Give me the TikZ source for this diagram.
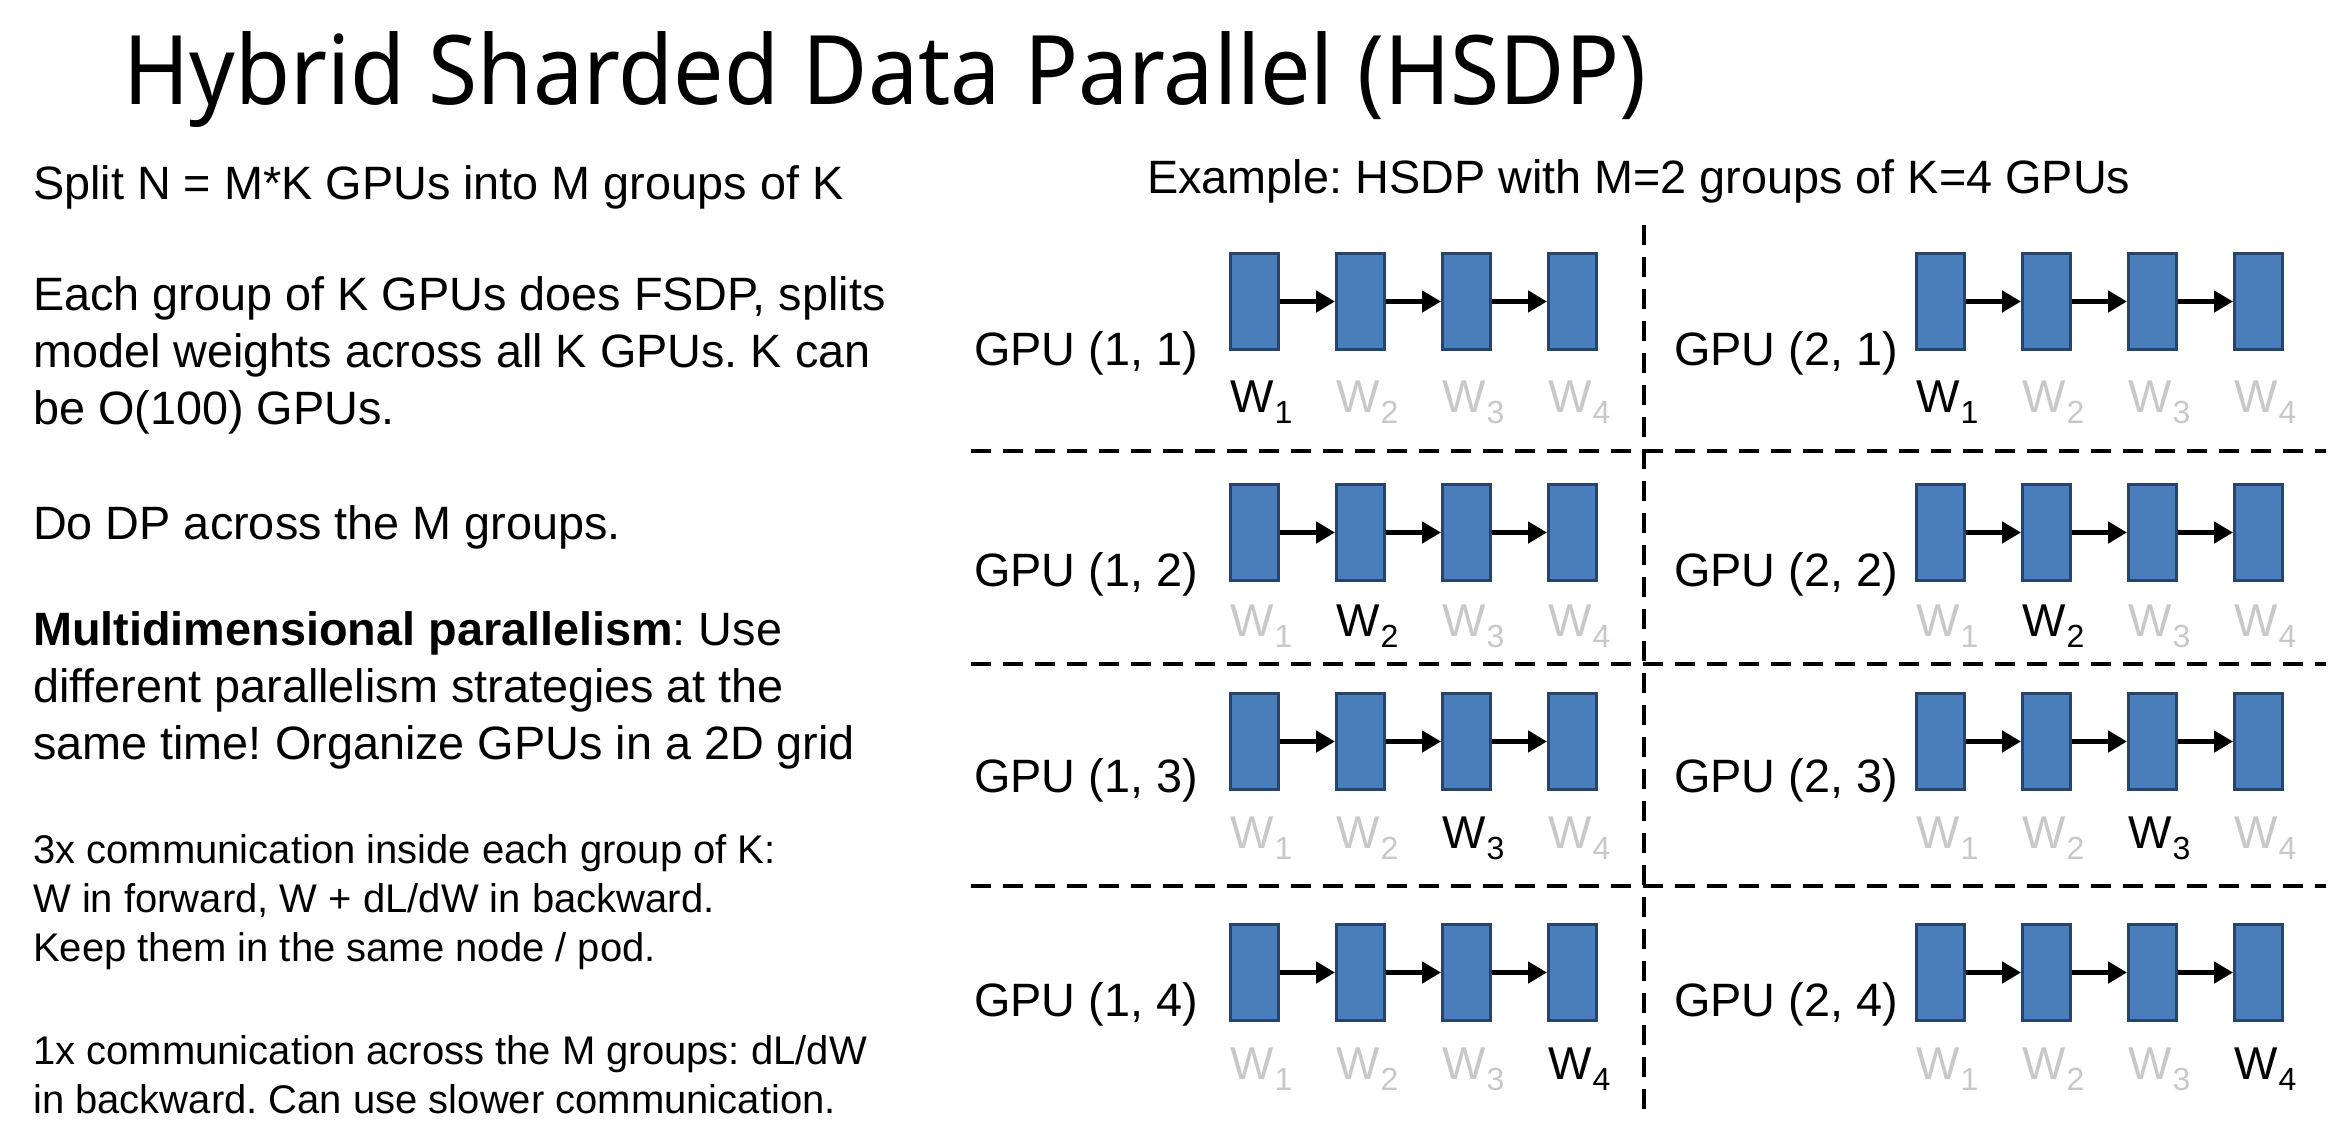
\documentclass[tikz,border=0pt]{standalone}
\usepackage{fontspec}
\setmainfont{Liberation Sans}
\newfontfamily\titlefont{Noto Sans}
\usetikzlibrary{arrows.meta}
\definecolor{blockfill}{HTML}{4A7EBB}
\definecolor{blockline}{HTML}{27446A}
\definecolor{faded}{HTML}{C8C8C8}
% weight label with a lowered index
\newcommand\wsub[1]{W\kern1pt\raisebox{-11pt}{\fontsize{32}{32}\selectfont #1}}

\begin{document}
\frenchspacing
\begin{tikzpicture}[x=1pt,y=-1pt,
  body/.style={anchor=base west,inner sep=0pt,font=\fontsize{46.8}{57}\selectfont},
  small/.style={anchor=base west,inner sep=0pt,font=\fontsize{40}{49}\selectfont},
  layer/.style={draw=blockline,fill=blockfill,line width=3pt,minimum width=48pt,
    minimum height=96pt,inner sep=0pt,anchor=north west},
  flow/.style={-{Triangle[length=19pt,width=21pt]},line width=5.5pt},
  divider/.style={line width=4.6pt,dash pattern=on 20pt off 12pt},
  wlab/.style={anchor=base west,inner sep=0pt,font=\fontsize{46}{46}\selectfont},
]
\useasboundingbox (0,0) rectangle (2350,1140);

% heading
\node[anchor=base west,inner sep=0pt,font=\titlefont\fontsize{96}{96}\selectfont]
  (title) at (123,104) {\scalebox{0.933}[1]{Hybrid Sharded Data Parallel (HSDP)}};

% explanation column
\node[body] (t1)  at (33,199) {Split N = M*K GPUs into M groups of K};
\node[body] (t2a) at (33,310) {Each group of K GPUs does FSDP, splits};
\node[body] (t2b) at (33,367) {model weights across all K GPUs. K can};
\node[body] (t2c) at (33,424) {be O(100) GPUs.};
\node[body] (t3)  at (33,539) {Do DP across the M groups.};
\node[body] (t4a) at (33,645) {\textbf{Multidimensional parallelism}: Use};
\node[body] (t4b) at (33,702) {different parallelism strategies at the};
\node[body] (t4c) at (33,759) {same time! Organize GPUs in a 2D grid};
\node[small] (t5a) at (33,863) {3x communication inside each group of K:};
\node[small] (t5b) at (33,912) {W in forward, W + dL/dW in backward.};
\node[small] (t5c) at (33,961) {Keep them in the same node / pod.};
\node[small] (t6a) at (33,1064) {1x communication across the M groups: dL/dW};
\node[small] (t6b) at (33,1113) {in backward. Can use slower communication.};

% example heading
\node[body] (ex) at (1147,193) {Example: HSDP with M=2 groups of K=4 GPUs};

% grid dividers
\coordinate (vtop) at (1644,225);
\coordinate (vbot) at (1644,1121);
\draw[divider] (vtop) -- (vbot);
\foreach \i/\yy in {1/451,2/664,3/886} {
  \coordinate (hl-\i) at (971,\yy);
  \coordinate (hr-\i) at (2326,\yy);
  \draw[divider] (hl-\i) -- (hr-\i);
}

% GPUs: group g, rank r, four layers each
\foreach \g/\gx/\lx in {1/1229/974, 2/1915/1674} {
  \foreach \r/\top/\lb/\wb in {1/252/365/412, 2/483/586/636, 3/692/792/848, 4/923/1016/1079} {
    \node[body] (gpu-\g-\r) at (\lx,\lb) {GPU (\g, \r)};
    \foreach \c in {1,...,4} {
      \pgfmathsetmacro\bx{\gx+(\c-1)*106}
      \node[layer] (b-\g-\r-\c) at (\bx,\top) {};
      \ifnum\c=\r\def\wcol{black}\else\def\wcol{faded}\fi
      \node[wlab,text=\wcol] (w-\g-\r-\c) at (\bx+1,\wb) {\wsub{\c}};
    }
    \foreach \c [evaluate=\c as \n using int(\c+1)] in {1,2,3}
      \draw[flow] (b-\g-\r-\c.east) -- (b-\g-\r-\n.west);
  }
}
\end{tikzpicture}
\end{document}
